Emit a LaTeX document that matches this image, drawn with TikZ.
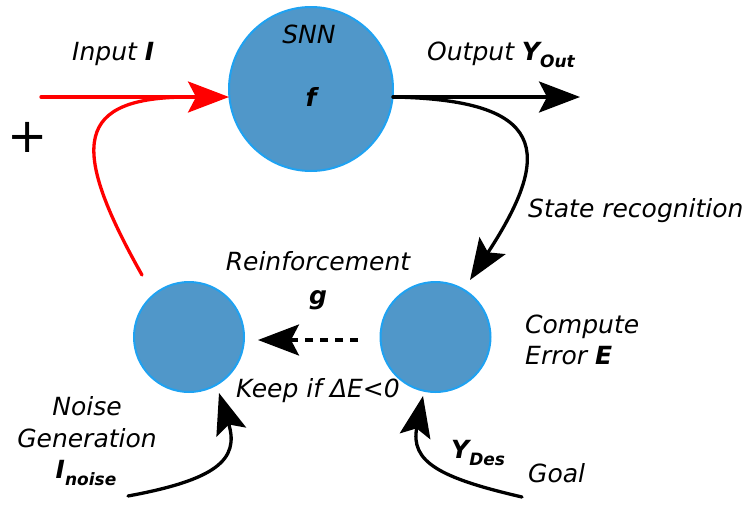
\documentclass[tikz,border=0pt]{standalone}
\usepackage{fontspec}
\setmainfont{DejaVu Sans}
\usetikzlibrary{arrows.meta}
\definecolor{nfill}{RGB}{80,151,201}
\definecolor{nedge}{RGB}{30,162,242}
\definecolor{ared}{RGB}{255,0,0}
\newcommand\lsize{\fontsize{25}{30}\selectfont\itshape}
\newcommand\mysub[1]{\raisebox{-0.28em}{\fontsize{17}{17}\selectfont #1}}
\tikzset{
  neuron/.style={circle, fill=nfill, draw=nedge, line width=2pt, inner sep=0pt},
  lbl/.style={font=\lsize, inner sep=0pt},
  bigtip/.style={-{Stealth[length=41pt,width=31pt,inset=8pt]}},
  conn/.style={bigtip, line width=3.3pt, line cap=round},
}
\begin{document}
\begin{tikzpicture}[x=1pt,y=-1pt]
\useasboundingbox (0,0) rectangle (745,504);
% neurons
\node[neuron, minimum size=164pt] (snn) at (311,89) {};
\node[neuron, minimum size=110pt] (noise) at (189,337) {};
\node[neuron, minimum size=110pt] (err) at (435.5,337) {};
% free ends
\coordinate (inStart) at (41,97);
\coordinate (inTip) at (229,97);
\coordinate (fbStart) at (142,275);
\coordinate (fbEnd) at (190,97);
\coordinate (outStart) at (393,97);
\coordinate (outTip) at (580,97);
\coordinate (stTip) at (470,280);
\coordinate (dashStart) at (358,340);
\coordinate (dashTip) at (258,340);
\coordinate (nzStart) at (128,496);
\coordinate (nzTip) at (219,393);
\coordinate (glStart) at (522,497);
\coordinate (glTip) at (423,396);
% red input
\draw[conn, ared] (inStart) -- (inTip);
\draw[ared, line width=3.3pt, line cap=round] (fbStart) .. controls (68.5,144.5) and (75,97) .. (fbEnd);
% output
\draw[conn] (outStart) -- (outTip);
\draw[conn] (outStart) .. controls (545,100) and (555,150) .. (stTip);
% dashed reinforcement
\draw[bigtip, line width=3.3pt, dash pattern=on 8pt off 7pt] (dashStart) -- (dashTip);
% bottom inputs
\draw[conn] (nzStart) .. controls (215,480) and (240,460) .. (nzTip);
\draw[conn] (glStart) .. controls (440,478) and (410,462) .. (glTip);
% labels
\node[lbl, anchor=base west] (inputL) at (72,60) {Input \textbf{I}};
\node[lbl, anchor=base] (snnL) at (309,43) {SNN};
\node[lbl, anchor=base] (fL) at (311,106) {\textbf{f}};
\node[lbl, anchor=base west] (outL) at (427,60) {Output \textbf{Y}\mysub{\textbf{Out}}};
\node[lbl, anchor=base west] (stateL) at (528,217) {State recognition};
\node[lbl, anchor=base] (reinfL) at (318,270) {Reinforcement};
\node[lbl, anchor=base] (gL) at (318,304) {\textbf{g}};
\node[lbl, anchor=base] (keepL) at (318,397) {Keep if ΔE<0};
\node[lbl, anchor=base west] (computeL) at (525,333) {Compute};
\node[lbl, anchor=base west] (errorL) at (525,364) {Error \textbf{E}};
\node[lbl, anchor=base] (noiseL) at (87,415) {Noise};
\node[lbl, anchor=base] (genL) at (87,447) {Generation};
\node[lbl, anchor=base] (inoiseL) at (86,478) {\textbf{I}\mysub{\textbf{noise}}};
\node[lbl, anchor=base west] (ydesL) at (451,458) {\textbf{Y}\mysub{\textbf{Des}}};
\node[lbl, anchor=base west] (goalL) at (528,482) {Goal};
\node[inner sep=0pt, font=\fontsize{48}{48}\selectfont] (plusL) at (28,137) {+};
\end{tikzpicture}
\end{document}
